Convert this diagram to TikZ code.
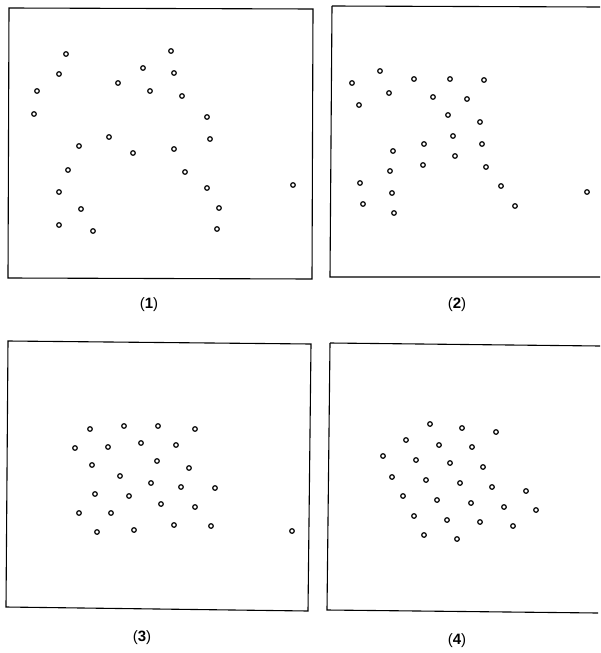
\documentclass[tikz,border=0pt]{standalone}
\usepackage{fontspec}
\setmainfont{Liberation Sans}
\begin{document}
\begin{tikzpicture}[x=1pt,y=-1pt,
  frame/.style={draw=black,line width=1.1pt},
  pt/.style={draw=black,line width=1.2pt,fill=white},
  lab/.style={font=\fontsize{15}{17}\selectfont}]
\useasboundingbox (0,0) rectangle (600,653);
\fill[white] (0,0) rectangle (600,653);
% frames
\draw[frame] (9,8) -- (313,9) -- (312,279) -- (8,278) -- cycle;
\draw[frame] (332,6) -- (600,7);
\draw[frame] (332,6) -- (330,277) -- (600,277);
\draw[frame] (8,341) -- (311,344) -- (308,611) -- (6,607) -- cycle;
\draw[frame] (330,343) -- (600,346);
\draw[frame] (330,343) -- (327,610) -- (598,613);
% panel 1
\foreach \x/\y in {66/54,171/51,59/74,143/68,174/73,37/91,118/83,150/91,182/96,34/114,207/117,109/137,210/139,79/146,133/153,174/149,68/170,185/172,59/192,207/188,293/185,81/209,219/208,59/225,93/231,217/229}
  \draw[pt] (\x,\y) circle (2.3);
% panel 2
\foreach \x/\y in {380/71,352/83,414/79,450/79,484/80,389/93,433/97,467/99,359/105,448/115,480/122,453/136,424/144,482/144,393/151,455/156,423/165,486/167,390/171,360/183,501/186,587/192,392/193,363/204,515/206,394/213}
  \draw[pt] (\x,\y) circle (2.3);
% panel 3
\foreach \x/\y in {90/429,124/426,158/426,195/429,75/448,108/447,141/443,176/445,92/465,157/461,189/468,120/476,151/483,181/487,215/488,95/494,129/496,161/504,195/507,79/513,111/513,97/532,134/530,174/525,211/526,292/531}
  \draw[pt] (\x,\y) circle (2.3);
% panel 4
\foreach \x/\y in {430/424,462/428,496/432,406/440,439/445,472/447,383/456,416/460,450/463,483/467,392/477,426/480,460/483,492/487,526/491,403/496,437/500,471/503,504/507,536/510,414/516,447/520,480/522,513/526,424/535,457/539}
  \draw[pt] (\x,\y) circle (2.3);
% labels
\node[lab] (l1) at (149,305) {(\textbf{1})};
\node[lab] (l2) at (457,305) {(\textbf{2})};
\node[lab] (l3) at (142,638) {(\textbf{3})};
\node[lab] (l4) at (457,641) {(\textbf{4})};
\end{tikzpicture}
\end{document}
